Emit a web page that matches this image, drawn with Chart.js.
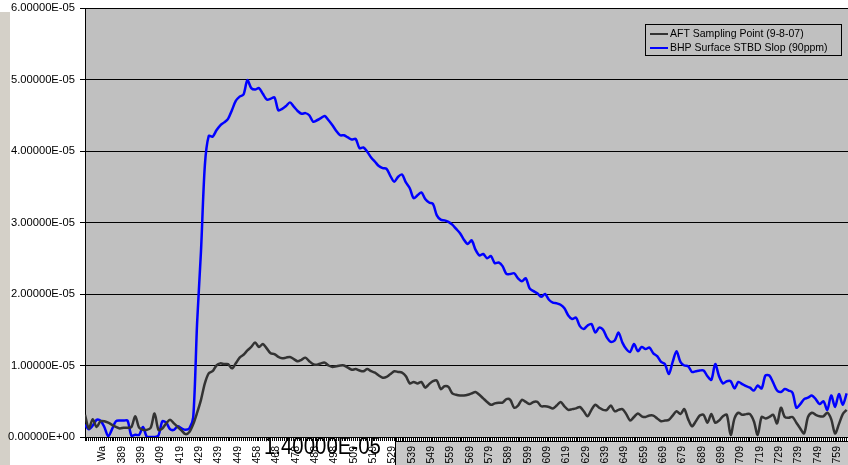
<!DOCTYPE html>
<html>
<head>
<meta charset="utf-8">
<script src="https://cdn.jsdelivr.net/npm/chart.js@4.4.1/dist/chart.umd.min.js"></script>
<style>
  body { margin: 0; background: #fff; }
  #wrap { position: relative; width: 848px; height: 465px; }
  #strip { position: absolute; left: 0; top: 12px; width: 10px; height: 453px; background: #d4d0c8; }
  canvas { position: absolute; left: 0; top: 0; }
</style>
</head>
<body>
<div id="wrap"><div id="strip"></div><canvas id="chart" width="848" height="465"></canvas></div>
<script>
const seriesNames = ['AFT Sampling Point (9-8-07)', 'BHP Surface STBD Slop (90ppm)'];
const seriesColors = ['#333333', '#0000ff'];

// readings are taken every xStep sample numbers starting at xStart
const xStart = 370;
const xStep = 2;
const xEnd = 764.7;

// values in units of 1E-06
const aftValues = [
  3.1, 1.2, 2.5, 1.4, 2.2, 2.2, 2.0, 1.7, 1.4, 1.2,
  1.3, 1.3, 1.4, 2.9, 1.3, 1.0, 1.0, 1.3, 3.3, 1.0,
  1.2, 1.9, 2.4, 1.9, 1.4, 0.9, 0.4, 0.7, 1.8, 3.4,
  5.2, 7.5, 8.9, 9.2, 10.0, 10.3, 10.2, 10.2, 9.6, 10.3,
  11.1, 11.5, 12.1, 12.6, 13.2, 12.6, 13.0, 12.4, 11.7, 11.6,
  11.2, 11.0, 11.1, 11.2, 10.9, 10.6, 10.8, 11.1, 10.6, 10.2,
  10.1, 10.3, 10.4, 10.0, 9.8, 9.9, 10.0, 10.0, 9.7, 9.4,
  9.5, 9.3, 9.2, 9.5, 9.2, 9.0, 8.6, 8.3, 8.4, 8.8,
  9.2, 9.1, 9.0, 8.5, 7.5, 7.7, 7.5, 7.7, 6.9, 7.4,
  7.8, 7.9, 6.7, 7.1, 7.0, 6.1, 5.9, 5.8, 5.8, 5.9,
  6.1, 6.3, 5.9, 5.4, 4.9, 4.5, 4.7, 4.8, 4.8, 5.3,
  5.2, 4.1, 4.4, 5.2, 4.9, 4.6, 4.9, 4.9, 4.3, 4.3,
  4.2, 4.0, 4.4, 4.9, 4.3, 3.8, 3.9, 4.0, 4.2, 3.6,
  2.9, 3.8, 4.5, 4.1, 3.8, 3.8, 4.4, 3.6, 3.8, 3.9,
  3.2, 2.3, 2.8, 3.3, 2.9, 2.8, 3.0, 3.0, 2.6, 2.2,
  2.3, 2.4, 3.0, 3.6, 3.2, 3.9, 2.5, 1.5, 2.2, 3.0,
  3.1, 2.0, 3.2, 2.0, 2.3, 2.9, 3.1, 0.3, 2.6, 3.4,
  3.1, 3.2, 3.2, 2.2, 0.3, 2.8, 2.6, 2.8, 3.1, 1.9,
  4.1, 2.8, 2.7, 2.8, 2.0, 1.2, 0.5, 2.8, 3.4, 3.1,
  2.9, 2.9, 3.4, 2.5, 0.5, 1.8, 3.2, 3.8
];

const bhpValues = [
  1.7, 1.1, 1.6, 2.4, 2.3, 1.4, 0.1, 1.1, 2.2, 2.3,
  2.3, 2.3, 0.2, 0.3, 0.3, 1.4, 0.0, 0.0, 0.0, 0.2,
  2.2, 2.0, 1.1, 1.0, 1.5, 1.2, 1.0, 1.2, 2.8, 16.0,
  26.0, 38.0, 42.1, 42.0, 42.9, 43.6, 44.0, 44.5, 45.7, 47.0,
  47.6, 47.9, 49.9, 48.8, 48.6, 48.8, 48.0, 47.2, 47.3, 47.5,
  45.7, 45.9, 46.3, 46.8, 46.2, 45.6, 45.2, 45.3, 45.0, 44.1,
  44.3, 44.6, 44.9, 44.3, 43.6, 42.8, 42.2, 42.2, 41.9, 41.6,
  41.7, 40.4, 40.5, 39.9, 39.1, 38.5, 37.9, 37.6, 37.5, 36.5,
  35.7, 36.4, 36.7, 35.6, 34.8, 33.4, 33.8, 34.2, 33.3, 32.8,
  32.6, 31.0, 30.4, 30.3, 30.1, 29.7, 29.1, 28.5, 27.6, 27.0,
  27.5, 26.2, 25.4, 25.6, 25.0, 25.3, 24.3, 24.4, 23.9, 22.8,
  22.8, 22.9, 22.2, 21.8, 22.2, 20.8, 20.4, 20.1, 19.6, 20.0,
  19.2, 18.8, 18.7, 18.5, 18.0, 17.0, 16.5, 16.7, 15.5, 15.1,
  15.6, 15.8, 14.6, 15.3, 15.0, 13.9, 13.3, 13.5, 14.6, 13.2,
  12.3, 11.9, 13.0, 12.0, 12.6, 12.3, 12.5, 11.7, 11.3, 10.5,
  10.2, 8.8, 10.5, 12.0, 10.5, 10.0, 9.9, 9.1, 9.2, 9.3,
  9.3, 8.5, 8.0, 10.2, 8.5, 7.5, 7.8, 7.8, 6.8, 7.7,
  7.4, 7.1, 6.9, 6.5, 7.2, 6.8, 8.6, 8.6, 7.6, 6.5,
  6.3, 6.7, 6.5, 6.2, 4.1, 4.6, 5.3, 5.5, 5.8, 5.3,
  4.6, 5.0, 3.8, 5.8, 4.2, 6.0, 4.5, 6.1
];

// category labels shown on the x axis, one every tickLabelStep samples
const tickLabels = ['Wa', '389', '399', '409', '419', '429', '439', '449', '458', '468',
  '478', '488', '498', '509', '519', '529', '539', '549', '559', '569',
  '579', '589', '599', '609', '619', '629', '639', '649', '659', '669',
  '679', '689', '699', '709', '719', '729', '739', '749', '759'];
const tickLabelStart = 379;
const tickLabelStep = 10;

const yTicks = [0, 10, 20, 30, 40, 50, 60];

const FONT = '"Liberation Sans", Arial, sans-serif';

function toPoints(values) {
  return values.map((v, i) => ({ x: xStart + i * xStep, y: v }));
}

function sciLabel(v) {
  let [m, e] = (v * 1e-6).toExponential(5).split('e');
  e = parseInt(e, 10);
  return m + 'E' + (e < 0 ? '-' : '+') + String(Math.abs(e)).padStart(2, '0');
}

const decorPlugin = {
  id: 'decor',
  beforeDraw(chart) {
    const {ctx, chartArea: a} = chart;
    const boxLeft = Math.round(chart.scales.x.getPixelForValue(530.5)) + 0.5;
    ctx.save();
    ctx.fillStyle = '#c0c0c0';
    ctx.fillRect(a.left, a.top, a.right - a.left, a.bottom - a.top);
    ctx.fillStyle = '#c8c8c8';
    ctx.fillRect(boxLeft, a.bottom + 4, chart.width - boxLeft, chart.height - a.bottom - 4);
    ctx.strokeStyle = '#000';
    ctx.lineWidth = 1;
    ctx.beginPath();
    ctx.moveTo(boxLeft, a.bottom);
    ctx.lineTo(boxLeft, chart.height);
    ctx.moveTo(boxLeft, a.bottom + 4.5);
    ctx.lineTo(chart.width, a.bottom + 4.5);
    ctx.stroke();
    ctx.restore();
  },
  afterDraw(chart) {
    const {ctx} = chart;
    ctx.save();
    // stray value label lying over the axis
    ctx.fillStyle = '#000';
    ctx.font = '24px ' + FONT;
    ctx.textBaseline = 'alphabetic';
    ctx.translate(264, 454);
    ctx.scale(0.85, 1);
    ctx.fillText('1.40000E-05', 0, 0);
    ctx.restore();

    // legend box
    ctx.save();
    ctx.strokeStyle = '#000';
    ctx.lineWidth = 1;
    ctx.strokeRect(645.5, 24.5, 196, 31);
    ctx.font = '10.5px ' + FONT;
    ctx.textBaseline = 'middle';
    ctx.fillStyle = '#000';
    chart.data.datasets.forEach((ds, i) => {
      const y = 34 + i * 14;
      ctx.strokeStyle = ds.borderColor;
      ctx.lineWidth = 2;
      ctx.beginPath();
      ctx.moveTo(650, y);
      ctx.lineTo(668, y);
      ctx.stroke();
      ctx.fillText(ds.label, 670, y);
    });
    ctx.restore();
  }
};

new Chart(document.getElementById('chart'), {
  type: 'line',
  data: {
    datasets: [
      {
        label: seriesNames[0],
        data: toPoints(aftValues),
        borderColor: seriesColors[0],
        borderWidth: 2.5,
        pointRadius: 0,
        tension: 0.3,
        fill: false
      },
      {
        label: seriesNames[1],
        data: toPoints(bhpValues),
        borderColor: seriesColors[1],
        borderWidth: 2.5,
        pointRadius: 0,
        tension: 0.3,
        fill: false
      }
    ]
  },
  options: {
    responsive: false,
    animation: false,
    layout: { padding: { top: 8, right: 0, bottom: 0, left: 0 } },
    plugins: {
      legend: { display: false },
      tooltip: { enabled: false }
    },
    scales: {
      x: {
        type: 'linear',
        min: xStart,
        max: xEnd,
        afterBuildTicks: (scale) => {
          const ticks = [];
          for (let v = xStart; v <= xEnd; v++) ticks.push({ value: v });
          scale.ticks = ticks;
        },
        afterFit: (scale) => {
          scale.height = 28;
          scale.paddingLeft = 0;
          scale.paddingRight = 0;
        },
        ticks: {
          autoSkip: false,
          minRotation: 90,
          maxRotation: 90,
          padding: 5,
          color: '#000',
          font: { family: FONT, size: 10.5 },
          callback: (value) => {
            const k = (value - tickLabelStart) / tickLabelStep;
            return Number.isInteger(k) && k >= 0 && k < tickLabels.length ? tickLabels[k] : '';
          }
        },
        grid: {
          display: true,
          drawOnChartArea: false,
          drawTicks: true,
          tickLength: 4,
          color: '#000',
          lineWidth: 1
        },
        border: { display: true, color: '#000', width: 1 }
      },
      y: {
        min: 0,
        max: 60,
        afterBuildTicks: (scale) => {
          scale.ticks = yTicks.map(v => ({ value: v }));
        },
        afterFit: (scale) => {
          scale.width = 85;
          scale.paddingTop = 0;
          scale.paddingBottom = 0;
        },
        ticks: {
          padding: 5,
          color: '#000',
          font: { family: FONT, size: 11.2 },
          callback: (value) => sciLabel(value)
        },
        grid: {
          color: '#000',
          lineWidth: 1,
          tickLength: 5
        },
        border: { display: true, color: '#000', width: 1 }
      }
    }
  },
  plugins: [decorPlugin]
});
</script>
</body>
</html>
